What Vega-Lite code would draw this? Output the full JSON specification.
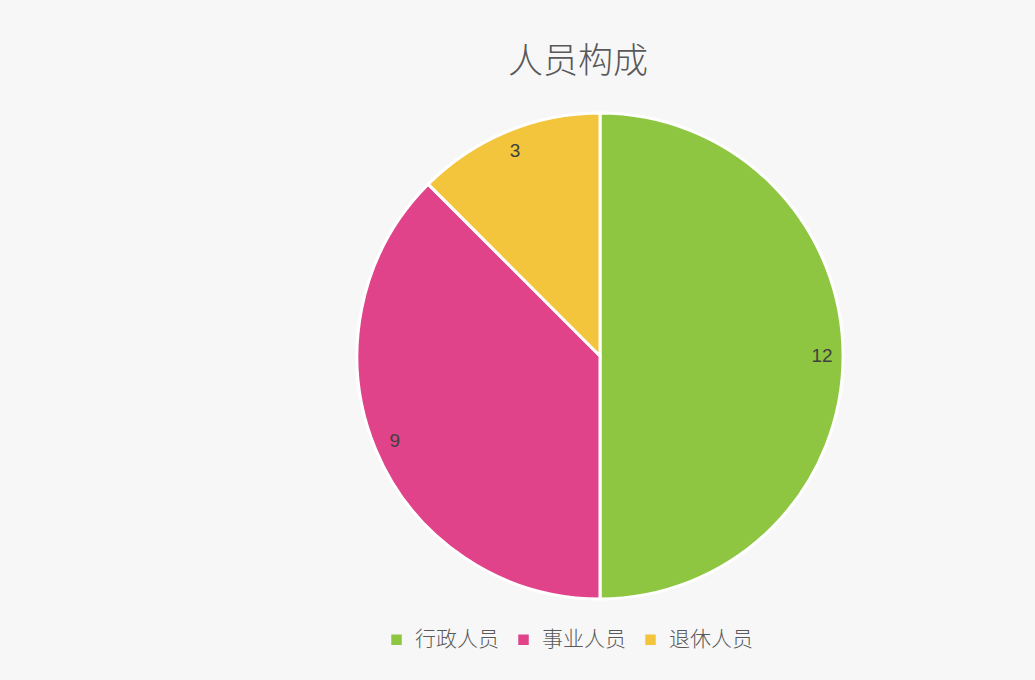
{
  "$schema": "https://vega.github.io/schema/vega-lite/v6.json",
  "width": 500,
  "height": 500,
  "autosize": "none",
  "padding": {"left": 350, "top": 106, "right": 185, "bottom": 74},
  "background": "#f7f7f7",
  "title": {
    "text": "人员构成",
    "font": "Noto Sans CJK SC",
    "fontWeight": 300,
    "fontSize": 35,
    "color": "#595959",
    "anchor": "middle",
    "dx": -22,
    "offset": 26
  },
  "data": {
    "values": [
      {"类别": "行政人员", "人数": 12, "序": 1},
      {"类别": "事业人员", "人数": 9, "序": 2},
      {"类别": "退休人员", "人数": 3, "序": 3}
    ]
  },
  "encoding": {
    "theta": {"field": "人数", "type": "quantitative", "stack": true},
    "order": {"field": "序", "type": "quantitative"},
    "color": {
      "field": "类别",
      "type": "nominal",
      "sort": ["行政人员", "事业人员", "退休人员"],
      "scale": {"domain": ["行政人员", "事业人员", "退休人员"], "range": ["#8fc641", "#e0438a", "#f2c53d"]},
      "legend": {
        "title": null,
        "orient": "none",
        "direction": "horizontal",
        "legendX": 36,
        "legendY": 523,
        "symbolType": "square",
        "symbolSize": 110,
        "symbolStrokeWidth": 0,
        "labelFont": "Noto Sans CJK SC",
        "labelFontWeight": 300,
        "labelFontSize": 21,
        "labelColor": "#595959",
        "columnPadding": 14,
        "labelOffset": 8
      }
    }
  },
  "layer": [
    {
      "mark": {"type": "arc", "outerRadius": 243, "stroke": "#ffffff", "strokeWidth": 3}
    },
    {
      "mark": {"type": "text", "radius": 222, "font": "Liberation Sans", "fontSize": 19, "color": "#404040"},
      "encoding": {
        "text": {"field": "人数", "type": "quantitative"},
        "color": {"value": "#404040"}
      }
    }
  ]
}
